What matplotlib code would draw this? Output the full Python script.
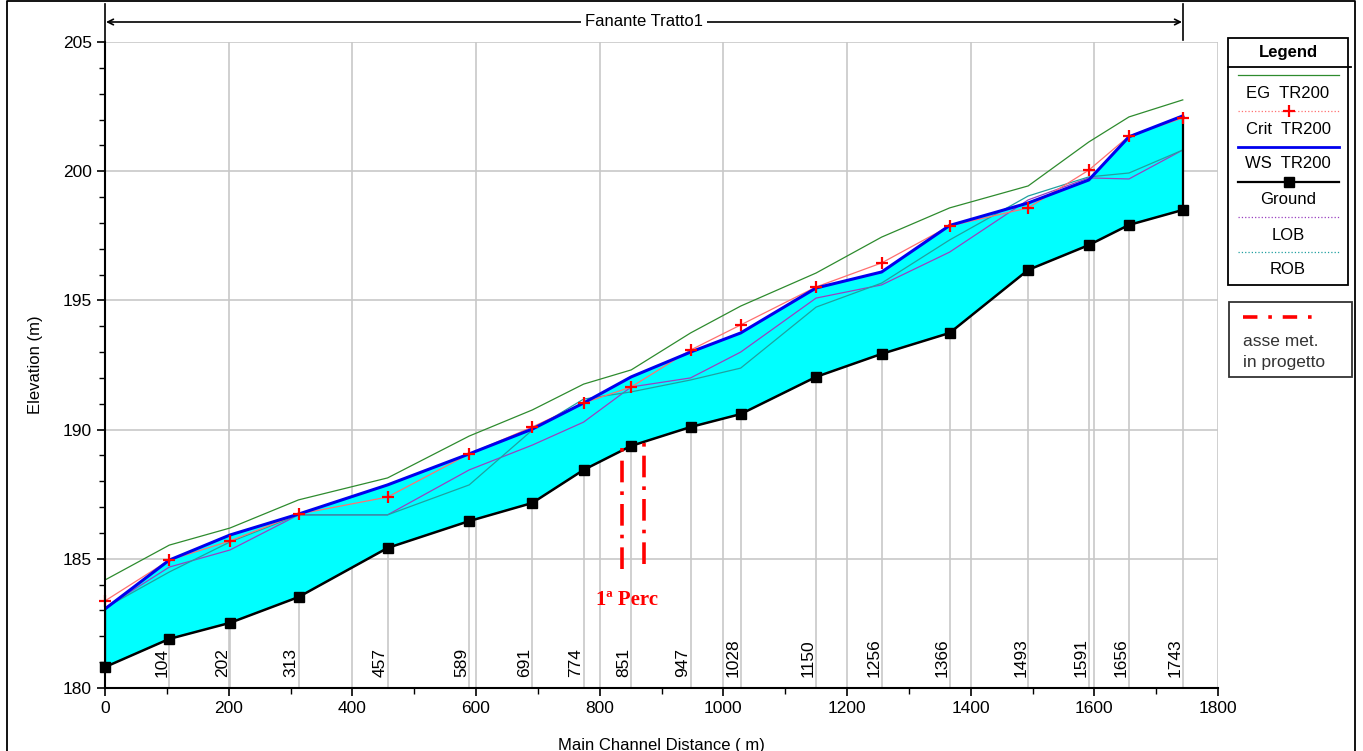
import numpy as np
import matplotlib
matplotlib.use("Agg")
from matplotlib import pyplot as plt
from matplotlib.patches import Rectangle

plt.rcParams['font.family'] = ['Liberation Sans', 'DejaVu Sans']

# river stations (main channel distance, m)
stations = [0, 104, 202, 313, 457, 589, 691, 774, 851, 947, 1028,
            1150, 1256, 1366, 1493, 1591, 1656, 1743]
station_labels = [str(s) for s in stations]

ground = [180.81, 181.90, 182.52, 183.52, 185.42, 186.46, 187.16, 188.44, 189.37,
          190.10, 190.60, 192.04, 192.93, 193.74, 196.18, 197.14, 197.92, 198.50]
ws = [183.06, 184.95, 185.92, 186.73, 187.86, 189.06, 190.02, 191.03, 192.04,
      193.00, 193.74, 195.48, 196.10, 197.90, 198.77, 199.66, 201.33, 202.14]
eg = [184.18, 185.53, 186.19, 187.28, 188.13, 189.75, 190.76, 191.76, 192.31,
      193.74, 194.78, 196.06, 197.45, 198.58, 199.43, 201.13, 202.10, 202.76]
crit = [183.37, 184.95, 185.69, 186.73, 187.39, 189.06, 190.10, 191.03, 191.65,
        193.08, 194.05, 195.52, 196.45, 197.88, 198.58, 200.04, 201.36, 202.06]
lob = [183.10, 184.68, 185.34, 186.70, 186.70, 188.44, 189.40, 190.29, 191.65,
       192.00, 193.00, 195.09, 195.60, 196.87, 198.89, 199.74, 199.70, 200.82]
rob = [183.10, 184.49, 185.65, 186.70, 186.70, 187.86, 189.98, 191.18, 191.46,
       191.92, 192.38, 194.74, 195.67, 197.34, 199.04, 199.78, 199.93, 200.82]

# planned axis lines (asse met. in progetto)
axis_x = [836, 872]
axis_y0 = [184.6, 184.8]
axis_y1 = [189.4, 189.5]

W, H = 1363, 751
fig = plt.figure(figsize=(W / 100, H / 100), dpi=100)
ax = fig.add_axes([105 / W, (H - 688) / H, (1218 - 105) / W, (688 - 42) / H])

gridc = '#c8c8c8'
ax.set_xlim(0, 1800)
ax.set_ylim(180, 205)
ax.set_xticks(np.arange(0, 1801, 200))
ax.set_xticks(np.arange(0, 1801, 100), minor=True)
ax.set_yticks(np.arange(180, 206, 5))
ax.set_yticks(np.arange(180, 206, 1), minor=True)
ax.grid(True, which='major', color=gridc, lw=1.2, zorder=0)
ax.tick_params(which='major', length=6, width=1.2, labelsize=12.5, direction='out')
ax.tick_params(which='minor', length=4, width=1.0, direction='out')
ax.spines['top'].set_visible(False)
ax.spines['right'].set_visible(False)
for s in ['left', 'bottom']:
    ax.spines[s].set_linewidth(1.5)
    ax.spines[s].set_zorder(6)

# station lines
ax.vlines(stations, 180, ground, color=gridc, lw=1.2, zorder=1)
for s, lab in zip(stations[1:], station_labels[1:]):
    ax.text(s, 180.42, lab, rotation=90, ha='right', va='bottom', fontsize=12.5, zorder=3)

ax.fill_between(stations, ground, ws, color='#00ffff', lw=0, zorder=2)
ax.plot(stations, eg, color='#2e8b2e', lw=0.9, zorder=3)
ax.plot(stations, lob, color='#9a40c0', lw=0.9, zorder=3)
ax.plot(stations, rob, color='#20a0a0', lw=0.9, zorder=3)
ax.plot(stations, crit, color='#ff7070', lw=0.9, zorder=3)
ax.plot(stations, crit, ls='none', marker='+', color='red', ms=8, mew=1.6, zorder=5,
        clip_on=False)
ax.plot(stations, ws, color='#0000ee', lw=2.2, zorder=4)
ax.plot(stations, ground, color='black', lw=1.8, marker='s', ms=6.5, zorder=5,
        clip_on=False)
ax.vlines([stations[0], stations[-1]], [ground[0], ground[-1]], [ws[0], ws[-1]],
          color='black', lw=1.6, zorder=4)

for x, y0, y1 in zip(axis_x, axis_y0, axis_y1):
    ax.plot([x, x], [y0, y1], color='red', lw=2.6, dashes=(6, 2.5, 1, 2.5), zorder=6)
ax.text(845, 183.4, '1ª Perc', color='red', fontsize=15, fontweight='bold',
        family=['Liberation Serif', 'DejaVu Serif'], ha='center', va='center', zorder=6)

ax.set_ylabel('Elevation (m)', fontsize=12, labelpad=14)
ax.set_xlabel('Main Channel Distance ( m)', fontsize=12, labelpad=16)

# overlay in pixel coordinates for frame, title bar and legend
ov = fig.add_axes([0, 0, 1, 1], zorder=10)
ov.set_xlim(0, W)
ov.set_ylim(H, 0)
ov.axis('off')
ov.patch.set_alpha(0)

ov.plot([7, 7, 1355, 1355], [H, 1, 1, H], color='black', lw=1.3)

# title bar
ov.plot([105, 105], [4, 42], color='black', lw=1.2)
ov.plot([1183, 1183], [4, 40], color='black', lw=1.2)
ov.annotate('', xy=(106, 22), xytext=(1182, 22),
            arrowprops=dict(arrowstyle='<->', color='black', lw=1.2,
                            shrinkA=0, shrinkB=0, mutation_scale=10))
ov.text(644, 22, 'Fanante Tratto1', fontsize=12, ha='center', va='center',
        bbox=dict(facecolor='white', edgecolor='none', pad=3))

# legend box
ov.add_patch(Rectangle((1228, 38), 120, 247, fill=False, ec='black', lw=1.3))
ov.text(1288, 53, 'Legend', fontsize=12, fontweight='bold', ha='center', va='center')
ov.plot([1228, 1351], [67, 67], color='black', lw=1.3)
entries = [
    ('EG  TR200', dict(color='#2e8b2e', lw=0.9), None),
    ('Crit  TR200', dict(color='#ff7070', lw=0.9, ls=':'), ('+', 'red')),
    ('WS  TR200', dict(color='#0000ee', lw=2.0), None),
    ('Ground', dict(color='black', lw=1.6), ('s', 'black')),
    ('LOB', dict(color='#9a40c0', lw=0.9, ls=':'), None),
    ('ROB', dict(color='#20a0a0', lw=0.9, ls=':'), None),
]
line_y = [75, 111, 147, 182, 217, 252]
text_y = [93, 129, 164, 200, 235, 269]
for (lab, style, mk), ly, ty in zip(entries, line_y, text_y):
    ov.plot([1238, 1339], [ly, ly], **style)
    if mk is not None:
        if mk[0] == '+':
            ov.plot([1289], [ly], marker='+', color=mk[1], ms=8, mew=1.6)
        else:
            ov.plot([1289], [ly], marker='s', color=mk[1], ms=6.5)
    ov.text(1288, ty, lab, fontsize=12, ha='center', va='center')

# planned axis box
ov.add_patch(Rectangle((1229, 302), 123, 75, fill=False, ec='#333333', lw=1.3))
ov.plot([1243, 1315], [317, 317], color='red', lw=2.6, dashes=(4, 3, 1, 3))
ov.text(1243, 341, 'asse met.', fontsize=12.5, color='#333333', ha='left', va='center')
ov.text(1243, 363, 'in progetto', fontsize=12.5, color='#333333', ha='left', va='center')

fig.savefig('out.png', dpi=100)
